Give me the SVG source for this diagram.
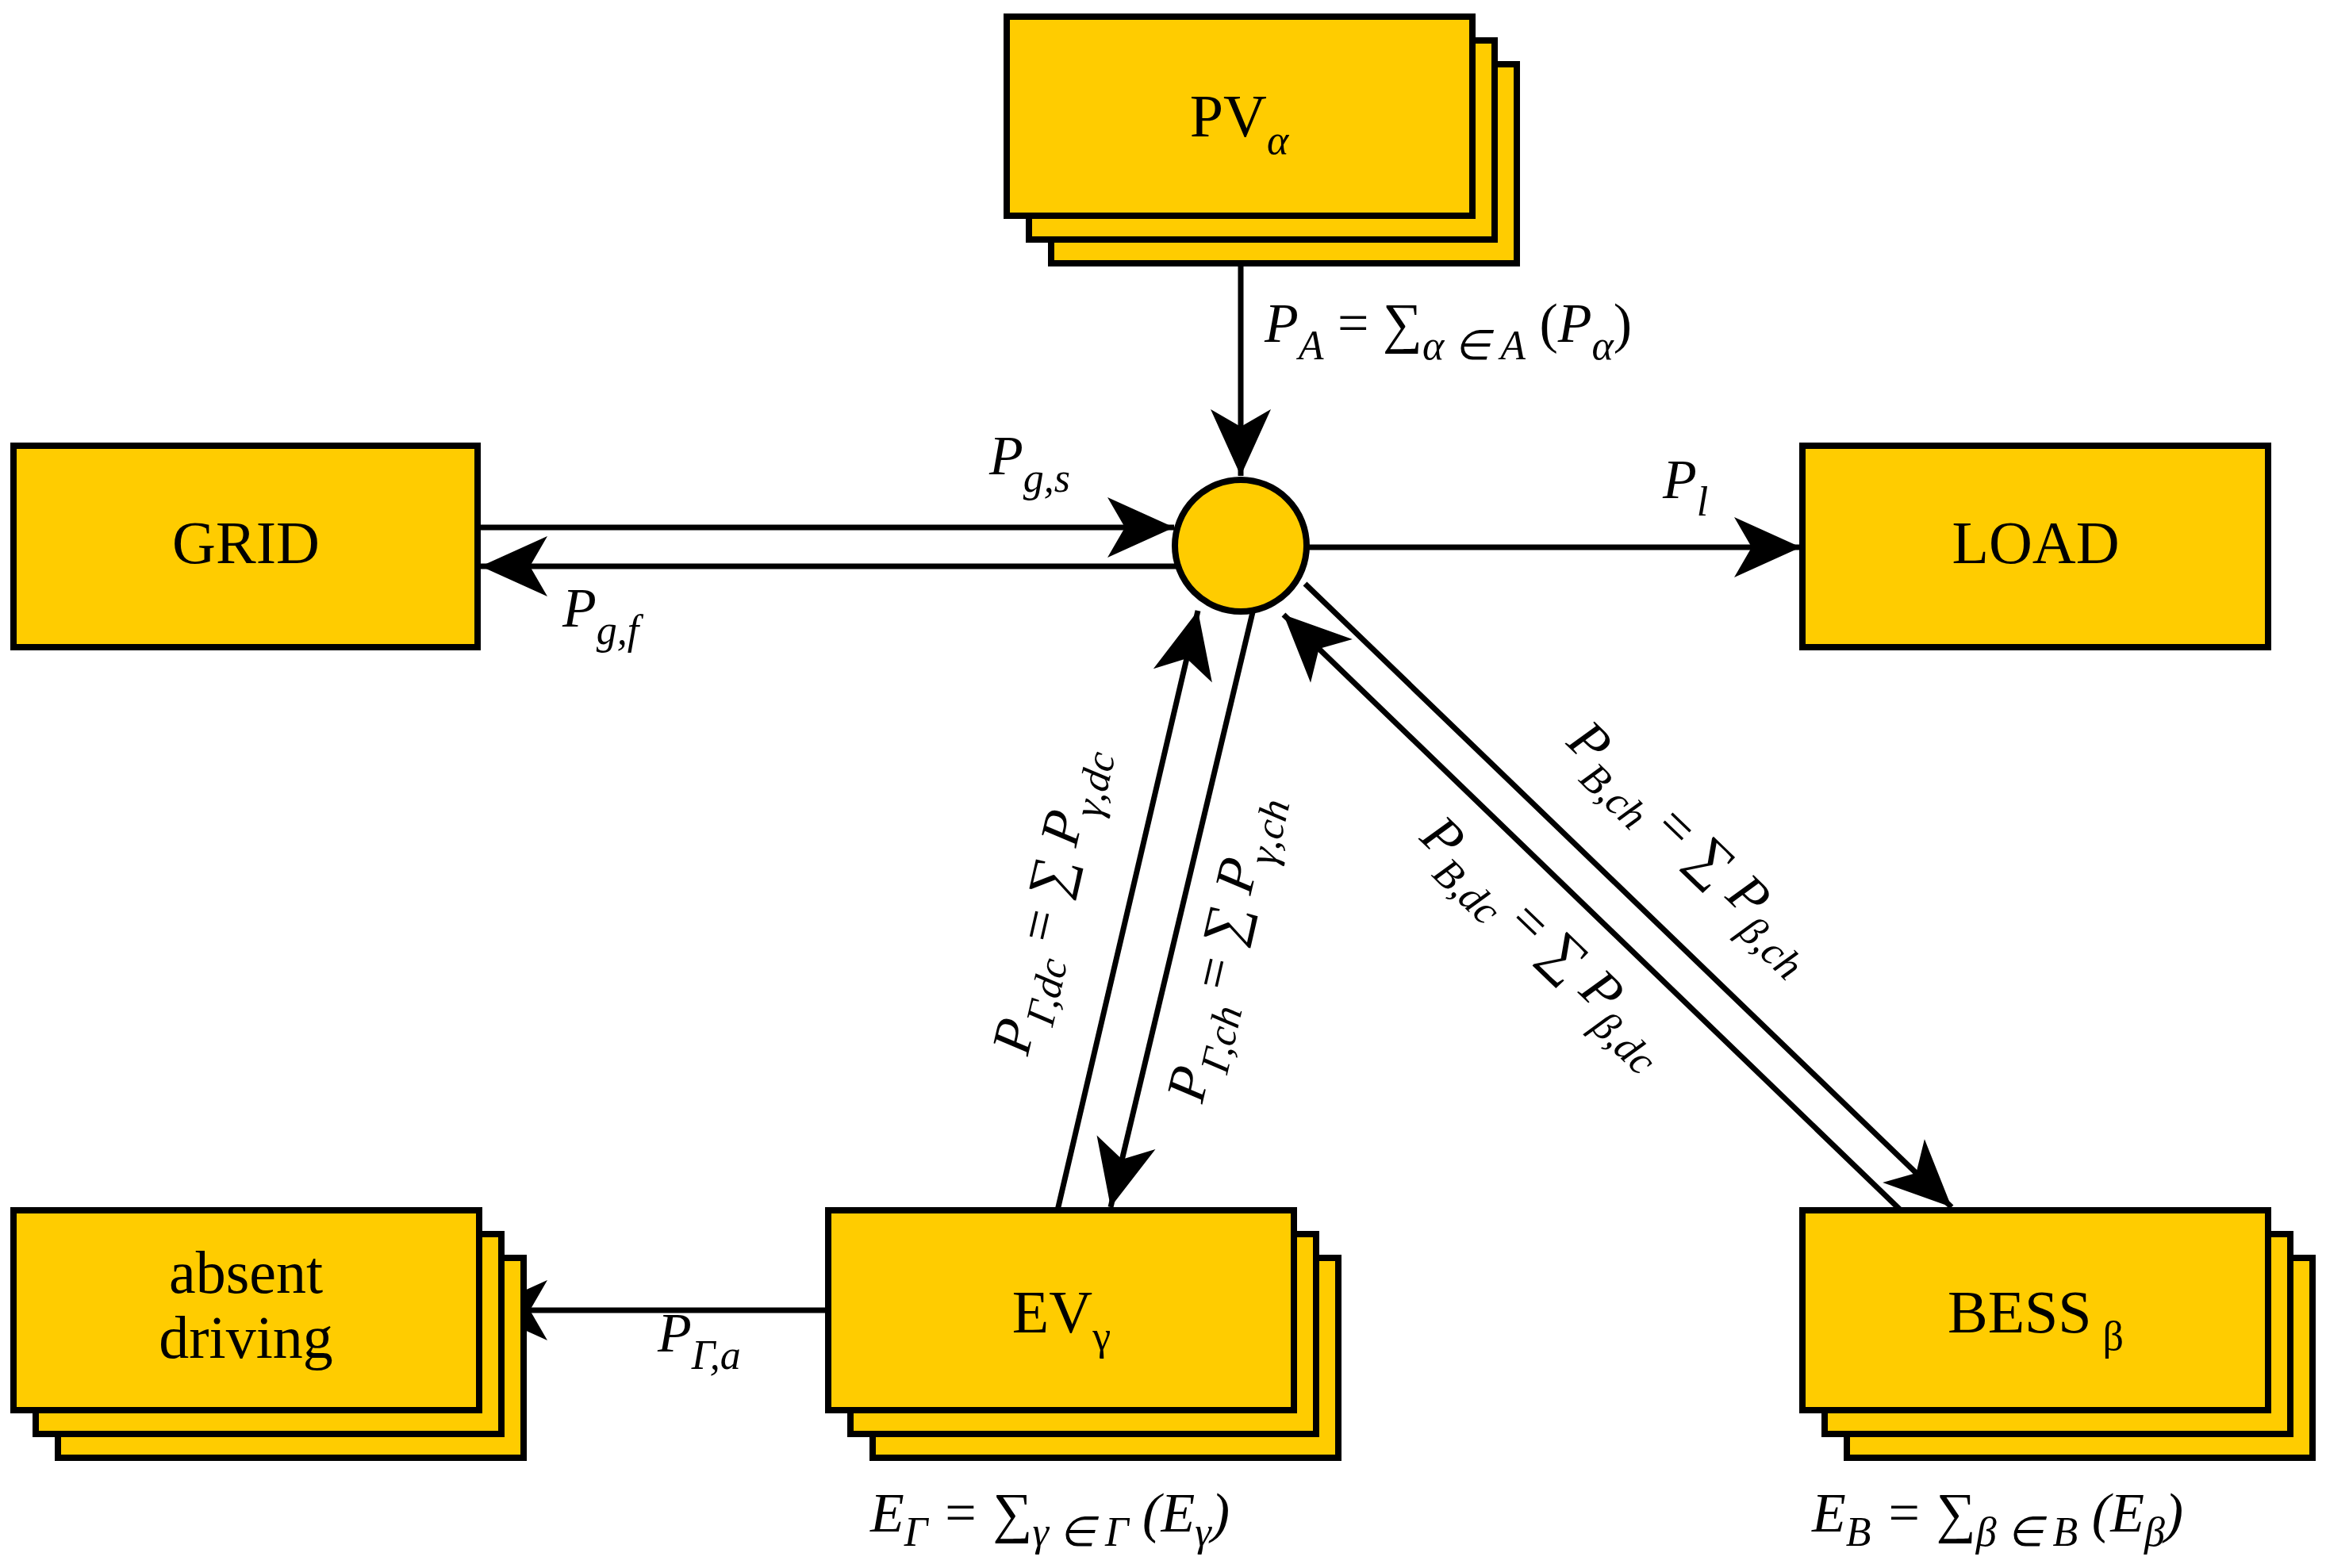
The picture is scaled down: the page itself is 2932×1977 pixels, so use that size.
<svg xmlns="http://www.w3.org/2000/svg" width="2932" height="1977" viewBox="0 0 2932 1977">
<style>
.b{fill:#FFCC00;stroke:#000;stroke-width:8}
.l{stroke:#000;stroke-width:7;fill:none}
.t{font-family:"Liberation Serif",serif;font-size:76px;fill:#000;text-anchor:middle}
.m{font-family:"Liberation Serif",serif;font-size:70px;fill:#000;font-style:italic}
.s{font-size:52px}
</style>
<defs>
<marker id="a" markerUnits="userSpaceOnUse" markerWidth="100" markerHeight="100" viewBox="-90 -45 100 90" refX="0" refY="0" orient="auto">
<path d="M0,0 L-84,-38 L-62,0 L-84,38 Z" fill="#000"/>
</marker>
</defs>
<g id="connectors">
<line class="l" x1="1564" y1="272" x2="1564" y2="600" marker-end="url(#a)"/>
<line class="l" x1="602" y1="665" x2="1480" y2="665" marker-end="url(#a)"/>
<line class="l" x1="1484" y1="714" x2="606" y2="714" marker-end="url(#a)"/>
<line class="l" x1="1647" y1="690" x2="2270" y2="690" marker-end="url(#a)"/>
<line class="l" x1="1333" y1="1526" x2="1510" y2="770" marker-end="url(#a)"/>
<line class="l" x1="1579" y1="772" x2="1400" y2="1522" marker-end="url(#a)"/>
<line class="l" x1="1645" y1="736" x2="2460" y2="1522" marker-end="url(#a)"/>
<line class="l" x1="2396" y1="1526" x2="1618" y2="775" marker-end="url(#a)"/>
<line class="l" x1="1044" y1="1652" x2="606" y2="1652" marker-end="url(#a)"/>
</g>
<g id="pv">
<rect class="b" x="1325" y="81" width="587" height="251"/>
<rect class="b" x="1297" y="51" width="587" height="251"/>
<rect class="b" x="1269" y="21" width="587" height="251"/>
<text class="t" x="1562" y="172">PV<tspan class="s" font-style="italic" dy="22">α</tspan></text>
</g>
<g id="grid">
<rect class="b" x="17" y="562" width="585" height="254"/>
<text class="t" x="310" y="710">GRID</text>
</g>
<g id="load">
<rect class="b" x="2272" y="562" width="587" height="254"/>
<text class="t" x="2566" y="710">LOAD</text>
</g>
<g id="hub">
<circle cx="1564" cy="688" r="83" class="b"/>
</g>
<g id="absent">
<rect class="b" x="73" y="1586" width="587" height="252"/>
<rect class="b" x="45" y="1556" width="587" height="252"/>
<rect class="b" x="17" y="1526" width="587" height="252"/>
<text class="t" x="310" y="1630">absent</text>
<text class="t" x="310" y="1712">driving</text>
</g>
<g id="ev">
<rect class="b" x="1100" y="1586" width="587" height="252"/>
<rect class="b" x="1072" y="1556" width="587" height="252"/>
<rect class="b" x="1044" y="1526" width="587" height="252"/>
<text class="t" x="1338" y="1680">EV<tspan class="s" dy="22">γ</tspan></text>
</g>
<g id="bess">
<rect class="b" x="2328" y="1586" width="587" height="252"/>
<rect class="b" x="2300" y="1556" width="587" height="252"/>
<rect class="b" x="2272" y="1526" width="587" height="252"/>
<text class="t" x="2566" y="1680">BESS<tspan class="s" dx="14" dy="22">β</tspan></text>
</g>
<g id="labels">
<text class="m" x="1594" y="431">P<tspan class="s" dy="22">A</tspan><tspan dy="-22" font-style="normal"> = ∑</tspan><tspan class="s" dy="22">α ∈ A</tspan><tspan dy="-22" font-style="normal"> (</tspan>P<tspan class="s" dy="22">α</tspan><tspan dy="-22" font-style="normal">)</tspan></text>
<text class="m" x="1247" y="598">P<tspan class="s" dy="22">g,s</tspan></text>
<text class="m" x="709" y="790">P<tspan class="s" dy="22">g,f</tspan></text>
<text class="m" x="2096" y="628">P<tspan class="s" dy="22">l</tspan></text>
<text class="m" x="829" y="1704">P<tspan class="s" dy="22">Γ,a</tspan></text>
<text class="m" x="1097" y="1931" font-style="normal">E<tspan class="s" dy="18">Γ</tspan><tspan dy="-18"> = ∑</tspan><tspan class="s" dy="18">γ ∈ Γ</tspan><tspan dy="-18"> (E</tspan><tspan class="s" dy="18">γ</tspan><tspan dy="-18">)</tspan></text>
<text class="m" x="2284" y="1931" font-style="normal">E<tspan class="s" dy="18">B</tspan><tspan dy="-18"> = ∑</tspan><tspan class="s" dy="18">β ∈ B</tspan><tspan dy="-18"> (E</tspan><tspan class="s" dy="18">β</tspan><tspan dy="-18">)</tspan></text>
<text class="m" text-anchor="middle" transform="translate(1340,1140) rotate(-77)">P<tspan class="s" dy="22">Γ,dc</tspan><tspan dy="-22" font-style="normal"> = ∑ </tspan>P<tspan class="s" dy="22">γ,dc</tspan></text>
<text class="m" text-anchor="middle" transform="translate(1560,1200) rotate(-77)">P<tspan class="s" dy="22">Γ,ch</tspan><tspan dy="-22" font-style="normal"> = ∑ </tspan>P<tspan class="s" dy="22">γ,ch</tspan></text>
<text class="m" text-anchor="middle" transform="translate(2120,1080) rotate(44)">P<tspan class="s" dy="22">B,ch</tspan><tspan dy="-22" font-style="normal"> = ∑ </tspan>P<tspan class="s" dy="22">β,ch</tspan></text>
<text class="m" text-anchor="middle" transform="translate(1935,1200) rotate(44)">P<tspan class="s" dy="22">B,dc</tspan><tspan dy="-22" font-style="normal"> = ∑ </tspan>P<tspan class="s" dy="22">β,dc</tspan></text>
</g>
</svg>
